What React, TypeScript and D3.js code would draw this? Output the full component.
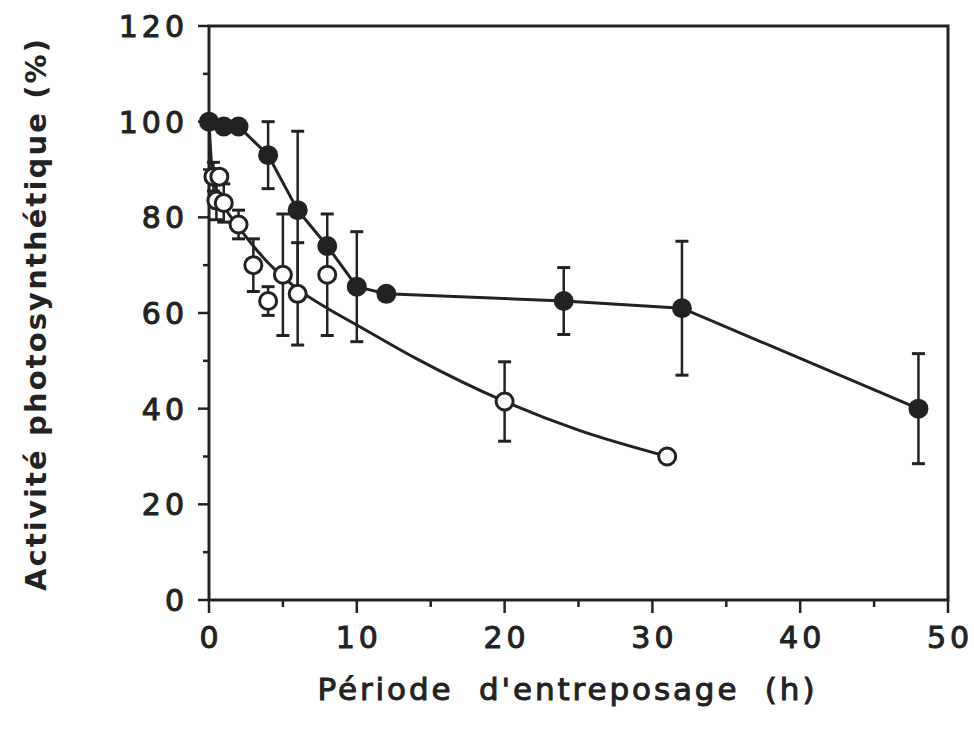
import React from "react";
import * as d3 from "d3";

const filledX = [0, 1, 2, 4, 6, 8, 10, 12, 24, 32, 48];
const filledY = [100, 99, 99, 93, 81.5, 74, 65.5, 64, 62.5, 61, 40];
const filledErr = [0, 0, 0, 7, 16.5, 0, 11.5, 0, 7, 14, 11.5];

const openX = [0.3, 0.7, 0.5, 1, 2, 3, 4, 5, 6, 8, 20, 31];
const openY = [88.5, 88.5, 83.5, 83, 78.5, 70, 62.5, 68, 64, 68, 41.5, 30];
const openErr = [3, 0, 4, 4, 3, 5.5, 3, 12.7, 10.7, 12.7, 8.3, 0];

const openFitX = [0, 0.15, 0.4, 1, 2, 3, 4, 6, 8, 10, 14, 20, 25, 31];
const openFitY = [100, 92, 87, 82.5, 78, 74, 70.5, 65, 61, 57.5, 50.5, 41.5, 35.5, 30];

const xTicks = [0, 10, 20, 30, 40, 50];
const xMinor = [5, 15, 25, 35, 45];
const yTicks = [0, 20, 40, 60, 80, 100, 120];
const yMinor = [10, 30, 50, 70, 90, 110];

const xTitle = "Période  d'entreposage  (h)";
const yTitle = "Activité photosynthétique (%)";

const INK = "#222";

export default function App() {
  const x = d3.scaleLinear().domain([0, 50]).range([209, 948]);
  const y = d3.scaleLinear().domain([0, 120]).range([600, 26]);

  const filledPts = filledX.map((v, i) => [v, filledY[i]] as [number, number]);
  const fitPts = openFitX.map((v, i) => [v, openFitY[i]] as [number, number]);

  const filledLine = d3
    .line<[number, number]>()
    .x((d) => x(d[0]))
    .y((d) => y(d[1]))
    .curve(d3.curveLinear);

  const fitLine = d3
    .line<[number, number]>()
    .x((d) => x(d[0]))
    .y((d) => y(d[1]))
    .curve(d3.curveMonotoneX);

  const errBars = (xs: number[], ys: number[], es: number[], key: string) =>
    xs.map((v, i) =>
      es[i] > 0 ? (
        <g key={key + i} stroke={INK} strokeWidth={2.5}>
          <line x1={x(v)} x2={x(v)} y1={y(ys[i] + es[i])} y2={y(ys[i] - es[i])} />
          <line x1={x(v) - 6.5} x2={x(v) + 6.5} y1={y(ys[i] + es[i])} y2={y(ys[i] + es[i])} strokeWidth={3} />
          <line x1={x(v) - 6.5} x2={x(v) + 6.5} y1={y(ys[i] - es[i])} y2={y(ys[i] - es[i])} strokeWidth={3} />
        </g>
      ) : null
    );

  const tickFont = {
    fontFamily: "DejaVu Sans",
    fontSize: 30,
    letterSpacing: 4,
    fill: INK,
    stroke: INK,
    strokeWidth: 1,
  } as const;

  return (
    <svg
      width={974}
      height={732}
      style={{ position: "absolute", left: 0, top: 0, background: "#fff" }}
    >
      <rect
        x={x(0)}
        y={y(120)}
        width={x(50) - x(0)}
        height={y(0) - y(120)}
        fill="none"
        stroke={INK}
        strokeWidth={3}
      />
      {yTicks.map((t) => (
        <line key={"yt" + t} x1={x(0) - 11} x2={x(0)} y1={y(t)} y2={y(t)} stroke={INK} strokeWidth={2.5} />
      ))}
      {yMinor.map((t) => (
        <line key={"ym" + t} x1={x(0) - 6} x2={x(0)} y1={y(t)} y2={y(t)} stroke={INK} strokeWidth={2.5} />
      ))}
      {xTicks.map((t) => (
        <line key={"xt" + t} x1={x(t)} x2={x(t)} y1={y(0)} y2={y(0) + 13} stroke={INK} strokeWidth={2.5} />
      ))}
      {xMinor.map((t) => (
        <line key={"xm" + t} x1={x(t)} x2={x(t)} y1={y(0)} y2={y(0) + 7} stroke={INK} strokeWidth={2.5} />
      ))}
      {yTicks.map((t) => (
        <text key={"yl" + t} x={188} y={y(t) + 11} textAnchor="end" {...tickFont}>
          {t}
        </text>
      ))}
      {xTicks.map((t) => (
        <text key={"xl" + t} x={x(t) + 2} y={648} textAnchor="middle" {...tickFont}>
          {t}
        </text>
      ))}
      <text
        x={566}
        y={700}
        textAnchor="middle"
        fontFamily="DejaVu Sans"
        fontSize={31}
        fill={INK}
        stroke={INK}
        strokeWidth={1}
        style={{ whiteSpace: "pre" }}
        textLength={497}
        lengthAdjust="spacing"
      >
        {xTitle}
      </text>
      <text
        transform={`translate(46,${(38 + 592) / 2}) rotate(-90)`}
        textAnchor="middle"
        fontFamily="DejaVu Sans"
        fontWeight="bold"
        fontSize={29}
        fill={INK}
        textLength={552}
        lengthAdjust="spacing"
      >
        {yTitle}
      </text>
      <path d={filledLine(filledPts) || ""} fill="none" stroke={INK} strokeWidth={3} />
      <path d={fitLine(fitPts) || ""} fill="none" stroke={INK} strokeWidth={3} />
      {errBars(filledX, filledY, filledErr, "fe")}
      {errBars(openX, openY, openErr, "oe")}
      {openX.map((v, i) => (
        <circle key={"oc" + i} cx={x(v)} cy={y(openY[i])} r={8.5} fill="#fff" stroke={INK} strokeWidth={3} />
      ))}
      {filledX.map((v, i) => (
        <circle key={"fc" + i} cx={x(v)} cy={y(filledY[i])} r={10} fill={INK} />
      ))}
    </svg>
  );
}
